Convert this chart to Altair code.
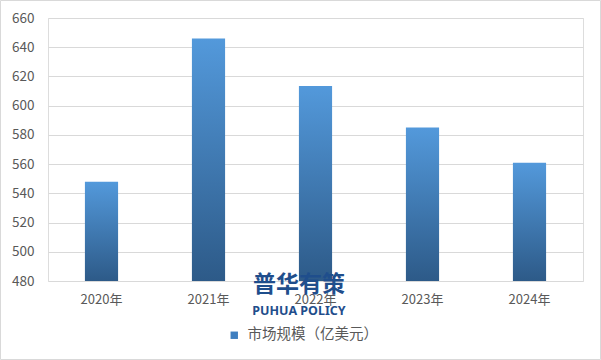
import altair as alt
import pandas as pd

years = ["2020年", "2021年", "2022年", "2023年", "2024年"]
values = [548, 646, 613.5, 585, 561]
series_name = "市场规模（亿美元）"
y_ticks = [480, 500, 520, 540, 560, 580, 600, 620, 640, 660]

df = pd.DataFrame({"year": years, "value": values, "series": [series_name] * len(years)})

W, H = 535, 263
LABEL_COLOR = "#595959"
FONT = "Noto Sans CJK SC"

x_enc = alt.X("year:N", sort=years, title=None,
              scale=alt.Scale(paddingInner=0, paddingOuter=0),
              axis=alt.Axis(labelAngle=0, labelFontSize=13, labelColor=LABEL_COLOR,
                            labelFont=FONT, ticks=False, domain=False, grid=False,
                            labelPadding=12))
y_enc = alt.Y("value:Q", title=None,
              scale=alt.Scale(domain=[480, 660], nice=False, zero=False),
              axis=alt.Axis(values=y_ticks, labelFontSize=13.5, labelColor=LABEL_COLOR,
                            labelFont=FONT, ticks=False, domain=False, grid=True,
                            labelOverlap=False, labelFlush=False,
                            gridColor="#d9d9d9", gridWidth=1, labelPadding=14))

grad = alt.Gradient(gradient="linear",
                    stops=[alt.GradientStop(color="#5399db", offset=0),
                           alt.GradientStop(color="#2d5a88", offset=1)],
                    x1=0, x2=0, y1=0, y2=1)

bars = alt.Chart(df).mark_bar(color=grad, width=alt.RelativeBandSize(0.31)).encode(
    x=x_enc, y=y_enc, y2=alt.datum(480))

legend_layer = alt.Chart(df).mark_square(opacity=0).encode(
    x=x_enc,
    y=y_enc,
    color=alt.Color("series:N", title=None,
                    scale=alt.Scale(range=["#3f7fc0"]),
                    legend=alt.Legend(orient="none", legendX=179, legendY=310,
                                      symbolType="square", symbolOpacity=1,
                                      symbolSize=55, symbolStrokeWidth=0,
                                      labelFontSize=14.5, labelColor=LABEL_COLOR,
                                      labelFont=FONT, labelOffset=6)))

border = alt.Chart(pd.DataFrame({"a": [0]})).mark_rect(
    fill=None, stroke="#d9d9d9", strokeWidth=1).encode(
    x=alt.value(-47.5), x2=alt.value(552.5), y=alt.value(-17.5), y2=alt.value(341.5))

wm1 = alt.Chart(pd.DataFrame({"t": ["普华有策"]})).mark_text(
    font=FONT, fontSize=23, fontWeight="bold", color="#1f4e8c", align="center",
    baseline="middle").encode(text="t:N", x=alt.value(251), y=alt.value(267))
wm2 = alt.Chart(pd.DataFrame({"t": ["PUHUA POLICY"]})).mark_text(
    font="Noto Sans", fontSize=12.5, fontWeight="bold", color="#1f4e8c", align="center",
    baseline="middle").encode(text="t:N", x=alt.value(251), y=alt.value(293))

chart = alt.layer(bars, wm1, wm2, legend_layer, border).properties(
    width=W, height=H,
    autosize=alt.AutoSizeParams(type="none"),
    padding={"left": 48, "top": 18, "right": 18, "bottom": 79},
).configure_view(stroke=None).configure(background="white")

chart.save("out.html", embed_options={"renderer": "svg", "actions": False})
